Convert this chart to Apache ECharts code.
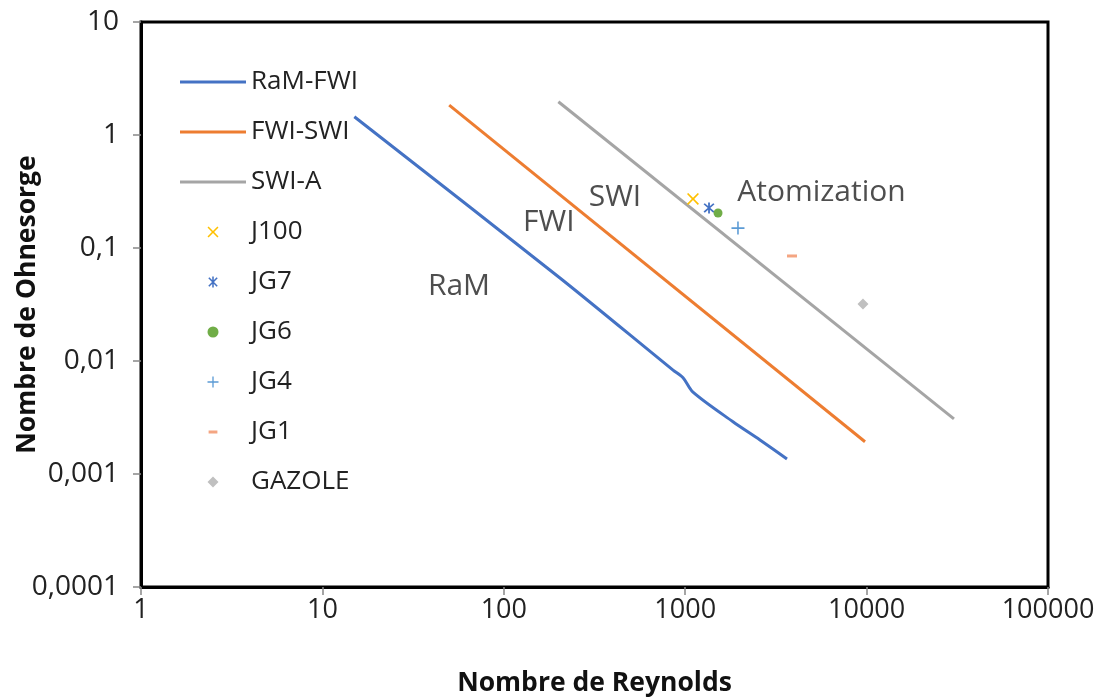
<!DOCTYPE html>
<html>
<head>
<meta charset="utf-8">
<script src="https://cdn.jsdelivr.net/npm/echarts@6/dist/echarts.min.js"></script>
<style>html,body{margin:0;padding:0;background:#fff;}#c{width:1108px;height:698px;}</style>
</head>
<body>
<div id="c"></div>
<script>
// ---- data ----
const ramFwiRe = [15, 204, 857, 973, 1104, 1834, 2584, 3640];
const ramFwiOh = [1.45, 0.0543, 0.0083, 0.0071, 0.0053, 0.0029, 0.0020, 0.00136];
const fwiSwiRe = [50, 9800];
const fwiSwiOh = [1.84, 0.00193];
const swiARe = [200, 30300];
const swiAOh = [1.97, 0.00307];

const pointNames = ['J100', 'JG7', 'JG6', 'JG4', 'JG1', 'GAZOLE'];
const pointRe = [1104, 1353, 1517, 1954, 3880, 9550];
const pointOh = [0.272, 0.226, 0.204, 0.150, 0.085, 0.0319];

const zoneNames = ['RaM', 'FWI', 'SWI', 'Atomization'];
const zoneRe = [56.6, 177, 410, 5640];
const zoneOh = [0.0461, 0.170, 0.282, 0.313];

const lineNames = ['RaM-FWI', 'FWI-SWI', 'SWI-A'];
const xTickLabels = ['1', '10', '100', '1000', '10000', '100000'];
const yTickLabels = ['0,0001', '0,001', '0,01', '0,1', '1', '10'];

// ---- styles ----
const FONT = 'Open Sans';
const TXT = '#222';
const lineColors = ['#4472C4', '#ED7D31', '#A5A5A5'];
const P_X = 'path://M0,1L1,0L5,4L9,0L10,1L6,5L10,9L9,10L5,6L1,10L0,9L4,5Z';
const P_STAR = 'path://M4.3,0H5.7V10H4.3Z M0.7,1.7L1.7,0.7L9.3,8.3L8.3,9.3Z M8.3,0.7L9.3,1.7L1.7,9.3L0.7,8.3Z';
const P_PLUS = 'path://M4.4,0H5.6V4.4H10V5.6H5.6V10H4.4V5.6H0V4.4H4.4Z';
const pointStyles = {
  J100:   { color: '#FFC000', symbol: P_X, size: 12, icon: P_X },
  JG7:    { color: '#4472C4', symbol: P_STAR, size: 11, icon: P_STAR },
  JG6:    { color: '#70AD47', symbol: 'circle', size: 9, icon: 'path://M0,5A5,5 0 1,1 10,5A5,5 0 1,1 0,5Z' },
  JG4:    { color: '#5B9BD5', symbol: P_PLUS, size: 13, icon: P_PLUS },
  JG1:    { color: '#F4A582', symbol: 'rect', size: [10, 3], icon: 'path://M5,0H5.01V0.01H5Z M5,10H5.01V10.01H5Z M1,3.6H9V6.4H1Z' },
  GAZOLE: { color: '#C0C0C0', symbol: 'diamond', size: 11, icon: 'path://M5,0L10,5L5,10L0,5Z' }
};

const zip = (a, b) => a.map((v, i) => [v, b[i]]);
const dec = v => Math.round(Math.log10(v));

const lineData = [zip(ramFwiRe, ramFwiOh), zip(fwiSwiRe, fwiSwiOh), zip(swiARe, swiAOh)];
const series = lineNames.map((n, i) => ({
  name: n, type: 'line', data: lineData[i], showSymbol: false, symbol: 'none',
  smooth: i === 0 ? 0.3 : false,
  lineStyle: { color: lineColors[i], width: 3 }, itemStyle: { color: lineColors[i] }
}));
pointNames.forEach((n, i) => {
  const s = pointStyles[n];
  series.push({ name: n, type: 'scatter', data: [[pointRe[i], pointOh[i]]],
    symbol: s.symbol, symbolSize: s.size, itemStyle: { color: s.color, opacity: 1 }, z: 5 });
});
series.push({
  name: 'zones', type: 'scatter', symbolSize: 0, silent: true,
  data: zoneNames.map((n, i) => ({ name: n, value: [zoneRe[i], zoneOh[i]] })),
  label: { show: true, position: 'inside', formatter: p => p.name,
    fontFamily: FONT, fontSize: 30, color: TXT }
});

const legendData = lineNames.map((n, i) => ({ name: n, icon: 'path://M0,0H66V3H0Z', itemStyle: { color: lineColors[i] } }))
  .concat(pointNames.map(n => ({ name: n, icon: pointStyles[n].icon, itemStyle: { color: pointStyles[n].color } })));

const chart = echarts.init(document.getElementById('c'), null, { renderer: 'canvas' });
chart.setOption({
  backgroundColor: '#fff',
  animation: false,
  grid: { left: 141, right: 60, top: 22, bottom: 111, show: true, borderColor: '#000', borderWidth: 3,
    containLabel: false, outerBoundsMode: 'none' },
  legend: {
    data: legendData,
    orient: 'vertical', left: 175, top: 64, padding: 5, itemWidth: 66, itemHeight: 11, itemGap: 24,
    textStyle: { fontFamily: FONT, fontSize: 26, color: TXT, lineHeight: 26 }
  },
  xAxis: {
    type: 'log', logBase: 10, min: 1, max: 100000,
    name: 'Nombre de Reynolds', nameLocation: 'middle', nameGap: 83, nameMoveOverlap: false,
    nameTextStyle: { fontFamily: FONT, fontSize: 26.5, fontWeight: 'bold', color: '#111' },
    axisLine: { show: true, lineStyle: { color: '#000', width: 3 } },
    axisTick: { show: true, length: 8, lineStyle: { color: '#888', width: 1.5 } },
    axisLabel: { fontFamily: FONT, fontSize: 27, color: TXT, margin: 10,
      formatter: v => xTickLabels[dec(v)] },
    splitLine: { show: false }, minorTick: { show: false }
  },
  yAxis: {
    type: 'log', logBase: 10, min: 0.0001, max: 10,
    name: 'Nombre de Ohnesorge', nameLocation: 'middle', nameGap: 100, nameMoveOverlap: false,
    nameTextStyle: { fontFamily: FONT, fontSize: 26.5, fontWeight: 'bold', color: '#111' },
    axisLine: { show: true, lineStyle: { color: '#000', width: 3 } },
    axisTick: { show: true, length: 8, lineStyle: { color: '#888', width: 1.5 } },
    axisLabel: { fontFamily: FONT, fontSize: 28, color: TXT, margin: 22,
      formatter: v => yTickLabels[dec(v) + 4] },
    splitLine: { show: false }, minorTick: { show: false }
  },
  series: series
});
</script>
</body>
</html>
